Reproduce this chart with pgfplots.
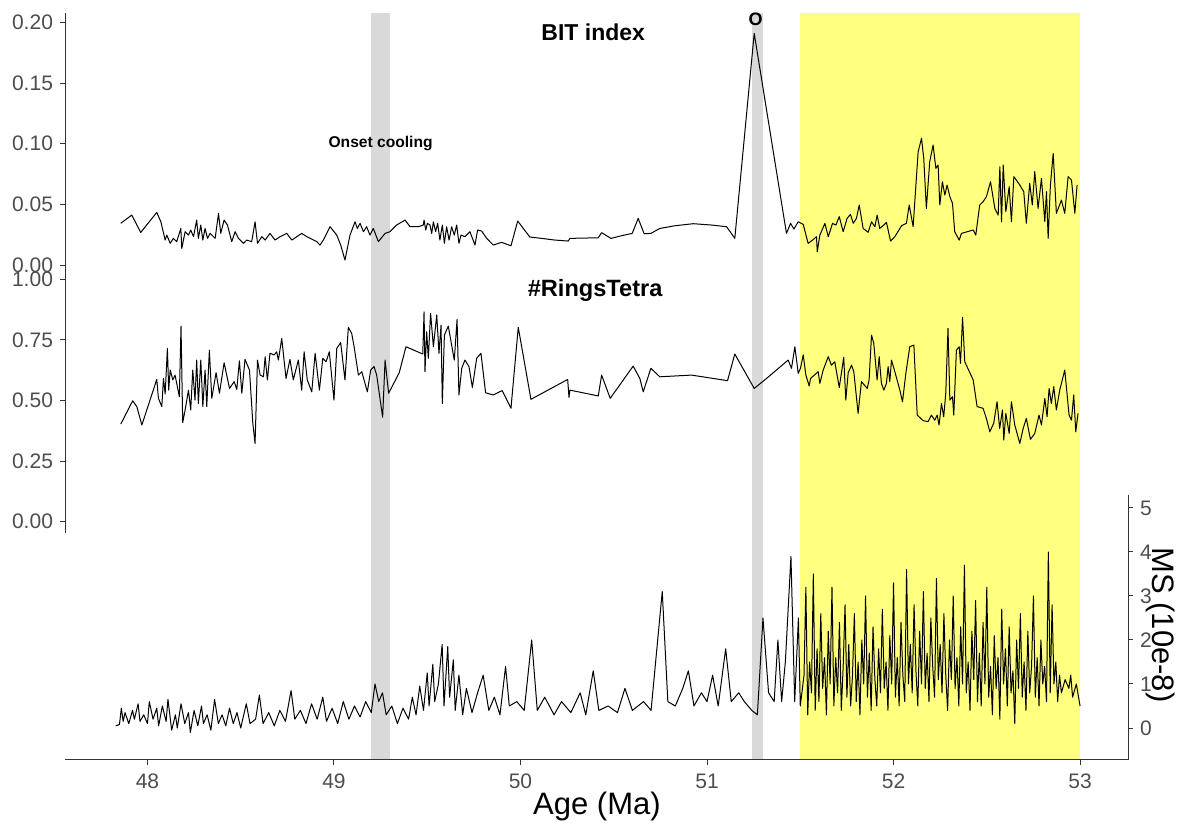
\documentclass[border=0pt]{standalone}
\usepackage{pgfplots}
\pgfplotsset{compat=1.18}
\usepackage{fontspec}
\setmainfont{Liberation Sans}
\definecolor{band}{RGB}{217,217,217}
\definecolor{yel}{RGB}{255,255,128}
\definecolor{tickc}{RGB}{77,77,77}
\definecolor{linec}{RGB}{51,51,51}

\pgfplotstableread{
x y
47.857 0.0344
47.916 0.0412
47.964 0.0269
48.050 0.0434
48.072 0.0357
48.095 0.0206
48.104 0.0247
48.122 0.0179
48.139 0.0220
48.157 0.0193
48.179 0.0302
48.184 0.0137
48.202 0.0275
48.220 0.0247
48.232 0.0289
48.247 0.0234
48.264 0.0371
48.273 0.0220
48.286 0.0330
48.297 0.0206
48.309 0.0302
48.322 0.0220
48.336 0.0261
48.363 0.0220
48.381 0.0426
48.393 0.0261
48.411 0.0371
48.429 0.0330
48.452 0.0193
48.470 0.0275
48.488 0.0220
48.515 0.0179
48.532 0.0206
48.559 0.0193
48.577 0.0357
48.590 0.0179
48.613 0.0234
48.631 0.0206
48.657 0.0261
48.684 0.0206
48.711 0.0234
48.747 0.0261
48.774 0.0206
48.827 0.0261
48.854 0.0234
48.908 0.0193
48.925 0.0165
48.943 0.0206
48.979 0.0316
49.015 0.0247
49.036 0.0165
49.059 0.0041
49.086 0.0247
49.113 0.0357
49.125 0.0302
49.140 0.0344
49.158 0.0275
49.175 0.0316
49.193 0.0247
49.211 0.0302
49.238 0.0193
49.274 0.0261
49.300 0.0275
49.336 0.0330
49.381 0.0371
49.408 0.0316
49.452 0.0316
49.479 0.0330
49.483 0.0371
49.492 0.0289
49.501 0.0344
49.515 0.0330
49.524 0.0261
49.533 0.0357
49.545 0.0275
49.556 0.0344
49.568 0.0206
49.581 0.0330
49.592 0.0179
49.604 0.0316
49.617 0.0206
49.631 0.0316
49.645 0.0247
49.658 0.0330
49.670 0.0179
49.681 0.0247
49.702 0.0234
49.729 0.0275
49.756 0.0165
49.770 0.0289
49.792 0.0280
49.819 0.0220
49.854 0.0165
49.899 0.0187
49.949 0.0159
49.985 0.0363
50.050 0.0231
50.113 0.0220
50.185 0.0206
50.256 0.0198
50.265 0.0220
50.417 0.0225
50.435 0.0267
50.485 0.0220
50.542 0.0242
50.599 0.0261
50.631 0.0385
50.663 0.0258
50.699 0.0261
50.747 0.0302
50.828 0.0324
50.926 0.0341
51.024 0.0330
51.105 0.0316
51.149 0.0220
51.253 0.1910
51.426 0.0261
51.448 0.0344
51.466 0.0297
51.489 0.0357
51.516 0.0335
51.542 0.0179
51.566 0.0206
51.587 0.0234
51.591 0.0110
51.605 0.0247
51.632 0.0344
51.650 0.0234
51.673 0.0344
51.691 0.0330
51.709 0.0399
51.730 0.0275
51.751 0.0385
51.769 0.0418
51.784 0.0344
51.801 0.0385
51.816 0.0495
51.837 0.0302
51.864 0.0270
51.882 0.0357
51.900 0.0316
51.912 0.0412
51.926 0.0302
51.948 0.0330
51.962 0.0352
51.984 0.0198
52.007 0.0234
52.043 0.0324
52.069 0.0344
52.084 0.0495
52.105 0.0316
52.132 0.0935
52.150 0.1045
52.162 0.0880
52.176 0.0467
52.194 0.0852
52.212 0.0990
52.227 0.0797
52.239 0.0825
52.248 0.0495
52.262 0.0687
52.275 0.0577
52.287 0.0660
52.302 0.0564
52.316 0.0509
52.328 0.0275
52.352 0.0206
52.364 0.0261
52.427 0.0289
52.441 0.0247
52.462 0.0495
52.480 0.0522
52.498 0.0564
52.520 0.0687
52.543 0.0467
52.561 0.0412
52.570 0.0811
52.579 0.0357
52.588 0.0825
52.602 0.0440
52.620 0.0646
52.632 0.0357
52.645 0.0729
52.677 0.0660
52.698 0.0605
52.712 0.0344
52.730 0.0674
52.744 0.0495
52.757 0.0770
52.775 0.0467
52.793 0.0715
52.811 0.0357
52.820 0.0605
52.829 0.0220
52.841 0.0660
52.856 0.0921
52.873 0.0426
52.900 0.0536
52.918 0.0426
52.936 0.0729
52.954 0.0701
52.972 0.0426
52.984 0.0660
}\bitdata

\pgfplotstableread{
x y
47.857 0.403
47.921 0.499
47.943 0.475
47.970 0.399
48.050 0.587
48.059 0.509
48.077 0.475
48.086 0.591
48.095 0.527
48.107 0.715
48.114 0.543
48.122 0.626
48.136 0.585
48.148 0.605
48.171 0.516
48.180 0.807
48.189 0.409
48.202 0.461
48.220 0.543
48.232 0.461
48.243 0.626
48.255 0.502
48.264 0.667
48.273 0.488
48.286 0.667
48.297 0.475
48.309 0.626
48.318 0.475
48.332 0.708
48.345 0.509
48.368 0.615
48.386 0.530
48.411 0.656
48.440 0.550
48.465 0.578
48.479 0.546
48.493 0.664
48.506 0.530
48.523 0.670
48.547 0.626
48.565 0.406
48.577 0.323
48.590 0.667
48.604 0.605
48.622 0.598
48.631 0.681
48.643 0.585
48.657 0.695
48.679 0.688
48.693 0.701
48.702 0.667
48.720 0.756
48.743 0.591
48.764 0.670
48.782 0.585
48.809 0.667
48.827 0.543
48.840 0.701
48.857 0.585
48.881 0.536
48.899 0.695
48.922 0.543
48.940 0.674
48.958 0.660
48.975 0.701
49.000 0.502
49.015 0.715
49.036 0.739
49.059 0.585
49.077 0.802
49.095 0.777
49.108 0.722
49.131 0.605
49.149 0.619
49.179 0.536
49.197 0.626
49.215 0.640
49.229 0.605
49.261 0.431
49.274 0.667
49.293 0.530
49.350 0.615
49.386 0.722
49.476 0.692
49.483 0.866
49.488 0.619
49.497 0.784
49.506 0.674
49.518 0.860
49.533 0.722
49.551 0.853
49.563 0.695
49.574 0.811
49.581 0.488
49.592 0.770
49.613 0.807
49.645 0.667
49.660 0.835
49.670 0.523
49.685 0.633
49.702 0.667
49.724 0.640
49.742 0.554
49.765 0.674
49.788 0.695
49.813 0.532
49.854 0.523
49.902 0.541
49.949 0.468
49.988 0.802
50.056 0.505
50.253 0.587
50.260 0.513
50.265 0.543
50.417 0.519
50.435 0.605
50.481 0.509
50.604 0.642
50.640 0.591
50.658 0.536
50.699 0.633
50.747 0.598
50.917 0.605
51.110 0.582
51.149 0.692
51.253 0.550
51.319 0.591
51.435 0.667
51.453 0.633
51.471 0.722
51.489 0.612
51.501 0.633
51.516 0.688
51.530 0.605
51.548 0.560
51.555 0.591
51.596 0.619
51.605 0.571
51.623 0.626
51.650 0.681
51.667 0.646
51.685 0.660
51.709 0.554
51.733 0.678
51.744 0.502
51.757 0.615
51.775 0.646
51.787 0.619
51.810 0.447
51.828 0.578
51.859 0.550
51.869 0.585
51.882 0.770
51.894 0.736
51.912 0.585
51.923 0.681
51.935 0.571
51.948 0.543
51.962 0.571
51.971 0.640
51.980 0.578
51.989 0.667
52.007 0.619
52.034 0.543
52.048 0.495
52.066 0.612
52.087 0.722
52.109 0.729
52.127 0.440
52.159 0.417
52.185 0.413
52.203 0.440
52.221 0.419
52.234 0.440
52.244 0.399
52.257 0.488
52.269 0.433
52.280 0.530
52.292 0.798
52.302 0.502
52.316 0.516
52.323 0.440
52.337 0.708
52.352 0.722
52.359 0.653
52.370 0.843
52.382 0.660
52.427 0.585
52.448 0.475
52.480 0.468
52.498 0.426
52.516 0.371
52.537 0.406
52.555 0.495
52.569 0.385
52.584 0.461
52.591 0.337
52.602 0.447
52.620 0.364
52.632 0.495
52.650 0.399
52.677 0.323
52.695 0.385
52.712 0.426
52.734 0.340
52.757 0.364
52.780 0.440
52.793 0.399
52.811 0.509
52.823 0.433
52.834 0.550
52.846 0.488
52.859 0.557
52.873 0.461
52.891 0.543
52.918 0.626
52.941 0.440
52.954 0.419
52.966 0.523
52.977 0.371
52.989 0.447
}\ringdata

\pgfplotstableread{
x y
47.83 0.05
47.85 0.08
47.86 0.45
47.87 0.15
47.88 0.35
47.90 0.10
47.92 0.40
47.93 0.20
47.95 0.55
47.96 0.15
47.98 0.30
48.00 0.10
48.01 0.60
48.03 0.20
48.05 0.45
48.06 0.05
48.08 0.50
48.10 0.15
48.11 0.65
48.13 -0.05
48.15 0.30
48.16 0.00
48.18 0.55
48.20 0.10
48.22 0.35
48.23 -0.10
48.25 0.40
48.27 0.05
48.29 0.50
48.30 0.10
48.32 0.30
48.34 -0.05
48.36 0.65
48.38 0.10
48.40 0.30
48.42 0.05
48.44 0.45
48.46 0.10
48.48 0.35
48.50 0.00
48.53 0.55
48.55 0.10
48.58 0.20
48.60 0.75
48.62 0.10
48.65 0.35
48.68 0.05
48.71 0.40
48.74 0.15
48.77 0.85
48.79 0.20
48.82 0.40
48.85 0.10
48.88 0.55
48.91 0.20
48.94 0.70
48.96 0.15
48.99 0.45
49.02 0.10
49.05 0.60
49.08 0.20
49.11 0.50
49.14 0.25
49.17 0.60
49.20 0.35
49.22 1.00
49.24 0.60
49.26 0.80
49.28 0.30
49.31 0.50
49.34 0.10
49.37 0.45
49.40 0.20
49.42 0.70
49.44 0.30
49.46 0.95
49.48 0.40
49.50 1.25
49.51 0.50
49.53 1.45
49.54 0.60
49.56 1.00
49.58 1.90
49.59 0.50
49.61 1.85
49.62 0.70
49.64 1.55
49.65 0.40
49.67 1.20
49.69 0.30
49.71 0.90
49.74 0.35
49.77 0.80
49.80 1.20
49.83 0.40
49.86 0.70
49.89 0.30
49.92 1.40
49.94 0.50
49.98 0.60
50.02 0.40
50.06 2.00
50.09 0.40
50.13 0.70
50.18 0.30
50.22 0.60
50.27 0.35
50.32 0.80
50.35 0.30
50.39 1.30
50.42 0.40
50.47 0.50
50.52 0.35
50.56 0.90
50.60 0.40
50.66 0.60
50.70 0.40
50.76 3.10
50.79 0.60
50.83 0.50
50.87 0.90
50.90 1.30
50.93 0.50
50.97 0.80
51.00 0.60
51.03 1.20
51.06 0.50
51.10 1.80
51.13 0.60
51.17 0.80
51.20 0.60
51.24 0.40
51.27 0.30
51.30 2.50
51.33 0.80
51.36 0.60
51.38 2.00
51.40 0.60
51.42 1.50
51.45 3.90
51.47 0.60
51.49 2.50
51.50 0.50
51.52 1.2
51.53 3.2
51.54 0.3
51.55 1.5
51.56 0.8
51.57 3.5
51.58 0.4
51.59 1.8
51.60 0.6
51.61 2.6
51.62 0.9
51.63 1.6
51.64 0.3
51.65 2.2
51.66 1.0
51.67 3.2
51.68 0.5
51.69 1.6
51.70 0.8
51.71 2.4
51.72 0.4
51.73 1.4
51.74 2.8
51.75 0.7
51.76 1.9
51.77 0.5
51.78 1.2
51.79 2.6
51.80 0.6
51.81 1.5
51.82 0.3
51.83 2.0
51.84 1.0
51.85 3.0
51.86 0.7
51.87 1.7
51.88 0.4
51.89 2.3
51.90 1.1
51.91 0.5
51.92 1.8
51.93 0.8
51.94 2.7
51.95 0.9
51.96 1.5
51.97 0.4
51.98 2.1
51.99 1.0
52.00 3.3
52.01 0.7
52.02 1.6
52.03 0.5
52.04 2.4
52.05 1.2
52.06 0.6
52.07 3.6
52.08 1.0
52.09 1.9
52.10 0.8
52.11 2.8
52.12 1.3
52.13 0.5
52.14 2.2
52.15 1.0
52.16 3.1
52.17 0.9
52.18 1.7
52.19 0.6
52.20 2.5
52.21 1.4
52.22 0.7
52.23 3.4
52.24 1.1
52.25 1.9
52.26 0.8
52.27 2.6
52.28 1.2
52.29 0.4
52.30 2.0
52.31 1.1
52.32 3.0
52.33 0.9
52.34 1.6
52.35 0.5
52.36 2.3
52.37 1.0
52.38 3.7
52.39 0.8
52.40 1.5
52.41 0.4
52.42 2.2
52.43 1.1
52.44 2.9
52.45 0.6
52.46 1.7
52.47 0.5
52.48 2.4
52.49 1.0
52.50 3.2
52.51 0.7
52.52 1.4
52.53 0.3
52.54 2.1
52.55 0.9
52.56 1.6
52.57 0.2
52.58 2.7
52.59 1.0
52.60 1.8
52.61 0.5
52.62 2.3
52.63 0.8
52.64 1.3
52.65 0.1
52.66 2.0
52.67 0.9
52.68 2.6
52.69 0.7
52.70 1.5
52.71 0.4
52.72 2.2
52.73 0.8
52.74 1.4
52.75 3.0
52.76 0.7
52.77 1.6
52.78 0.5
52.79 2.0
52.80 1.0
52.81 1.4
52.82 0.6
52.83 4.0
52.84 0.8
52.85 2.8
52.86 1.0
52.87 1.5
52.88 0.6
52.89 1.2
52.90 0.8
52.92 1.1
52.94 0.9
52.95 1.2
52.96 0.7
52.98 1.0
53.00 0.5
}\msdata

\pgfplotsset{
  base/.style={
    scale only axis, width=531.5pt, height=373.5pt,
    xmin=47.558, xmax=53.257,
    at={(0pt,0pt)}, anchor=south west,
    tick align=outside, major tick length=2.5pt,
    tick style={linec, line width=0.5pt},
    axis line style={-, linec, line width=0.5pt},
    /pgf/number format/assume math mode=true,
    ticklabel style={font=\fontsize{10.5}{12}\selectfont, text=tickc},
  },
  over/.style={
    base, axis x line=none, y axis line style={draw=none},
    scaled y ticks=false, clip=false,
  },
  ser/.style={black, line width=0.5pt, no markers, line join=round},
}

\begin{document}
\begin{tikzpicture}
% master axis: background bands, bottom x axis, axis lines
\begin{axis}[base,
  ymin=-760, ymax=-13,
  axis x line*=bottom, axis y line=none, axis on top,
  xtick={48,49,50,51,52,53},
  xticklabel style={yshift=-1pt},
  clip=false]
  \fill[yel] (axis cs:51.5,-760) rectangle (axis cs:53,-13);
  \fill[band] (axis cs:49.2,-760) rectangle (axis cs:49.3,-13);
  \fill[band] (axis cs:51.24,-760) rectangle (axis cs:51.30,-13);
  \draw[linec, line width=0.5pt] (axis cs:47.558,-13) -- (axis cs:47.558,-533);
  \draw[linec, line width=0.5pt] (axis cs:53.257,-495) -- (axis cs:53.257,-760);
  \node[font=\fontsize{15.5}{18}\selectfont] at (axis cs:50.41,-806) {Age (Ma)};
  \node[font=\fontsize{15.5}{18}\selectfont, rotate=-90] at (axis cs:53.429,-625) {MS (10e-8)};
\end{axis}
% BIT index
\begin{axis}[over, axis y line*=left,
  ymin=-0.408, ymax=0.2078,
  ytick={0,0.05,0.1,0.15,0.2},
  yticklabel style={/pgf/number format/.cd, fixed, fixed zerofill, precision=2}]
  \addplot[ser] table[x=x,y=y] {\bitdata};
  \node[font=\bfseries\fontsize{11.5}{13}\selectfont] at (axis cs:50.39,0.192) {BIT index};
  \node[font=\bfseries\fontsize{7.8}{9}\selectfont] at (axis cs:49.25,0.10) {Onset cooling};
  \node[font=\bfseries\fontsize{9}{10}\selectfont] at (axis cs:51.26,0.2025) {O};
\end{axis}
% #RingsTetra
\begin{axis}[over, axis y line*=left,
  ymin=-0.983, ymax=2.099,
  ytick={0,0.25,0.5,0.75,1},
  yticklabel style={/pgf/number format/.cd, fixed, fixed zerofill, precision=2}]
  \addplot[ser] table[x=x,y=y] {\ringdata};
  \node[font=\bfseries\fontsize{11.8}{13}\selectfont] at (axis cs:50.40,0.956) {\#RingsTetra};
\end{axis}
% MS
\begin{axis}[over, axis y line*=right,
  ymin=-0.727, ymax=16.25,
  ytick={0,1,2,3,4,5}]
  \addplot[ser] table[x=x,y=y] {\msdata};
\end{axis}
\pgfresetboundingbox
\path[use as bounding box] (-32.5pt,-31.5pt) rectangle (560pt,380pt);
\end{tikzpicture}
\end{document}
